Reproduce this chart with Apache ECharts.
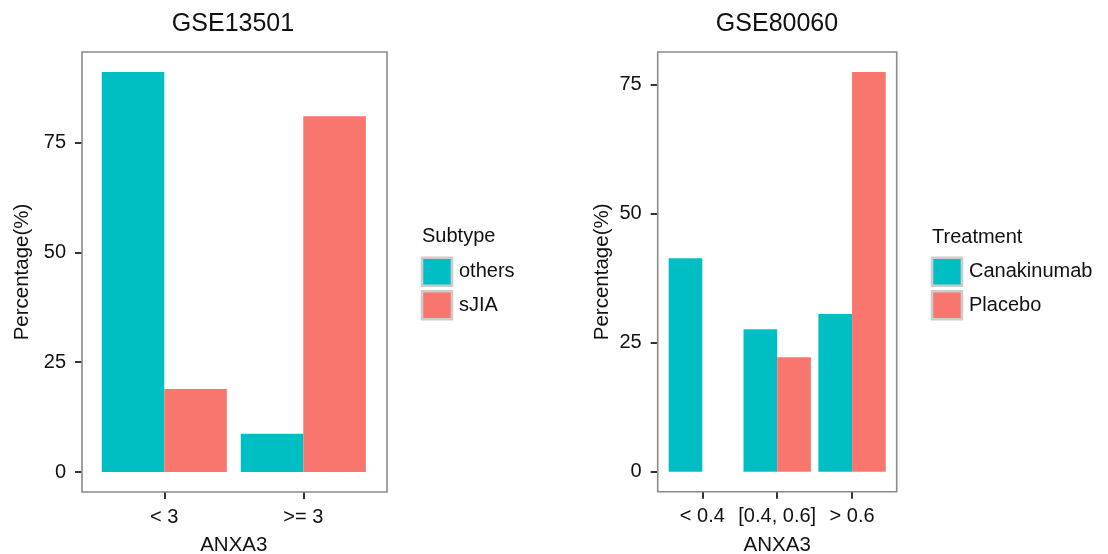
<!DOCTYPE html>
<html>
<head>
<meta charset="utf-8">
<script src="https://cdn.jsdelivr.net/npm/echarts@6/dist/echarts.min.js"></script>
<style>
  html, body { margin: 0; padding: 0; background: #fff; }
  #chart { width: 1108px; height: 554px; }
</style>
</head>
<body>
<div id="chart"></div>
<script>
// GSE13501: share of each subtype falling in each ANXA3 group
const groupsA = ['< 3', '>= 3'];
const othersPct = [91.1, 8.7];
const sjiaPct = [18.9, 81.0];

// GSE80060: share of each treatment arm falling in each ANXA3 group
const groupsB = ['< 0.4', '[0.4, 0.6]', '> 0.6'];
const canakinumabPct = [41.4, 27.6, 30.6];
const placeboPct = ['-', 22.2, 77.5];

const yTicks = [0, 25, 50, 75];

const TEAL = '#00BFC4';
const SALMON = '#F8766D';
const FONT = 'Liberation Sans, Arial, sans-serif';
const INK = '#111';

// ggplot-style 5% padding around [0, max]
function paddedRange(values) {
  const nums = values.filter(v => typeof v === 'number');
  const top = Math.max.apply(null, nums);
  return { min: -0.05 * top, max: 1.05 * top };
}
const rangeA = paddedRange(othersPct.concat(sjiaPct));
const rangeB = paddedRange(canakinumabPct.concat(placeboPct));

function yAxisFor(gridIndex, range, offset, nameGap) {
  return {
    type: 'value', gridIndex: gridIndex,
    min: range.min, max: range.max, offset: offset,
    name: 'Percentage(%)', nameLocation: 'middle', nameRotate: 90, nameGap: nameGap,
    nameTextStyle: { fontFamily: FONT, fontSize: 20.5, color: INK },
    axisLine: { show: false, onZero: false },
    splitLine: { show: false },
    axisTick: { show: true, length: 7, customValues: yTicks, lineStyle: { color: '#333', width: 2 } },
    axisLabel: { customValues: yTicks, margin: 16, fontFamily: FONT, fontSize: 20, color: INK }
  };
}

function xAxisFor(gridIndex, cats) {
  return {
    type: 'category', gridIndex: gridIndex, data: cats,
    name: 'ANXA3', nameLocation: 'middle', nameGap: 43,
    nameTextStyle: { fontFamily: FONT, fontSize: 20.5, color: INK },
    axisLine: { show: false, onZero: false },
    axisTick: { show: true, alignWithLabel: true, length: 7, lineStyle: { color: '#333', width: 2 } },
    axisLabel: { margin: 15, fontFamily: FONT, fontSize: 20, color: INK, interval: 0 }
  };
}

function barSeries(name, data, axisIndex, color) {
  return {
    type: 'bar', name: name, data: data,
    xAxisIndex: axisIndex, yAxisIndex: axisIndex,
    barGap: '0%', barCategoryGap: '10%',
    itemStyle: { color: color },
    emphasis: { disabled: true }
  };
}

function legendFor(left, names) {
  return {
    orient: 'vertical', left: left, top: 256.4, padding: 0,
    itemWidth: 30, itemHeight: 28, itemGap: 3,
    icon: 'rect', data: names,
    itemStyle: { borderColor: '#cccccc', borderWidth: 2.6 },
    textStyle: { fontFamily: FONT, fontSize: 20, color: INK, padding: [0, 0, 0, 2] },
    selectedMode: false
  };
}

function panelBorder(x, y, w, h) {
  return {
    type: 'rect', silent: true, z: 10,
    shape: { x: x, y: y, width: w, height: h },
    style: { fill: 'none', stroke: '#8a8a8a', lineWidth: 1.6 }
  };
}

const chart = echarts.init(document.getElementById('chart'), null, { renderer: 'canvas' });
chart.setOption({
  backgroundColor: '#fff',
  animation: false,
  title: [
    { text: 'GSE13501', left: 233, top: 12, textAlign: 'center', padding: 0,
      textStyle: { fontFamily: FONT, fontSize: 25, fontWeight: 'normal', color: INK } },
    { text: 'GSE80060', left: 777, top: 12, textAlign: 'center', padding: 0,
      textStyle: { fontFamily: FONT, fontSize: 25, fontWeight: 'normal', color: INK } },
    { text: 'Subtype', left: 422, top: 226, padding: 0,
      textStyle: { fontFamily: FONT, fontSize: 20, fontWeight: 'normal', color: INK } },
    { text: 'Treatment', left: 932, top: 227, padding: 0,
      textStyle: { fontFamily: FONT, fontSize: 20, fontWeight: 'normal', color: INK } }
  ],
  grid: [
    { left: 94.8, top: 52, width: 278, height: 440, outerBoundsMode: 'none', containLabel: false },
    { left: 664.9, top: 52, width: 224.6, height: 439.7, outerBoundsMode: 'none', containLabel: false }
  ],
  xAxis: [xAxisFor(0, groupsA), xAxisFor(1, groupsB)],
  yAxis: [yAxisFor(0, rangeA, 12.8, 49), yAxisFor(1, rangeB, 7.2, 45)],
  legend: [
    legendFor(420.7, ['others', 'sJIA']),
    legendFor(930.7, ['Canakinumab', 'Placebo'])
  ],
  series: [
    barSeries('others', othersPct, 0, TEAL),
    barSeries('sJIA', sjiaPct, 0, SALMON),
    barSeries('Canakinumab', canakinumabPct, 1, TEAL),
    barSeries('Placebo', placeboPct, 1, SALMON)
  ],
  graphic: [
    panelBorder(82, 52, 305, 440),
    panelBorder(657.7, 52, 239, 439.7)
  ]
});
</script>
</body>
</html>
